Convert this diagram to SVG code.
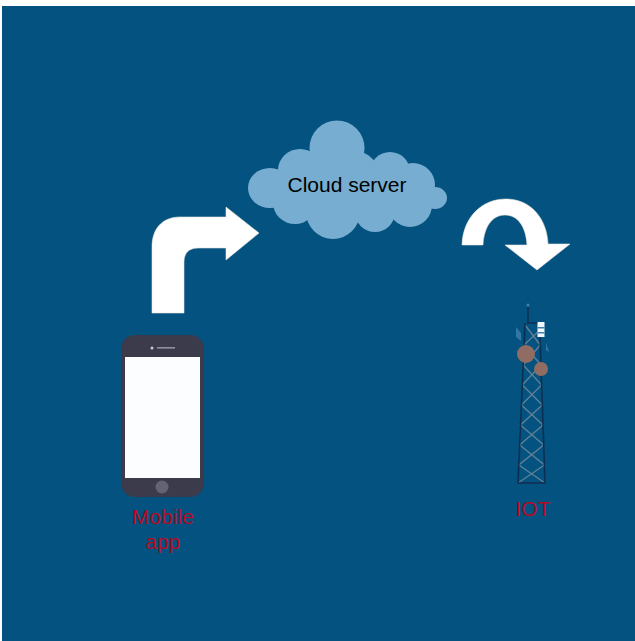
<svg xmlns="http://www.w3.org/2000/svg" width="635" height="641" viewBox="0 0 635 641">
<defs><style>
.lbl{font-family:"Liberation Sans",Arial,sans-serif;font-size:21px;text-anchor:middle}
.red{fill:#b50a24}
.cl{fill:#77add0}
.wa{fill:#fff;stroke:#e8e4dc;stroke-width:.6;stroke-linejoin:round}
.lat{stroke:#5f8098;stroke-width:1.4;fill:none}
.leg{stroke:#0f2f52;stroke-width:1.6;fill:none}
</style>
<filter id="soft" x="-10%" y="-10%" width="120%" height="120%"><feGaussianBlur stdDeviation="0.5"/></filter></defs>
<rect width="635" height="641" fill="#fff"/>
<rect x="2" y="6" width="633" height="635" fill="#03527f"/>
<g id="connectors">
<path class="wa" d="M152 313V247C152 229 162 217 180 217H226V207L259 233L226 260V248H198C189 248 184 253 184 262V313Z"/>
<path class="wa" d="M462 245C463 217 482 199 506 199C531 199 547 219 548 244H570L537 270L505 245H527C526 227 518 215 505 215C492 215 484 227 483 245Z"/>
</g>
<g id="cloud">
<g class="cl">
<circle cx="337" cy="148" r="27.500"/>
<ellipse cx="270" cy="188" rx="22" ry="20"/>
<ellipse cx="300" cy="170" rx="22" ry="21"/>
<ellipse cx="340" cy="175" rx="40" ry="28"/>
<ellipse cx="390" cy="172" rx="20" ry="20"/>
<ellipse cx="413" cy="185" rx="22" ry="22"/>
<ellipse cx="435" cy="198" rx="12" ry="11"/>
<ellipse cx="295" cy="203" rx="22" ry="21"/>
<ellipse cx="333" cy="212" rx="27" ry="27"/>
<ellipse cx="375" cy="212" rx="20" ry="20"/>
<ellipse cx="410" cy="205" rx="22" ry="22"/>
<rect x="280" y="170" width="135" height="42"/>
</g>
<text class="lbl" x="347" y="192" fill="#000">Cloud server</text>
</g>
<g id="mobile">
<g filter="url(#soft)">
<rect x="121" y="335" width="83" height="162" rx="14" fill="#3a3b4b"/>
<rect x="125" y="357" width="75" height="121" fill="#fbfdff"/>
<circle cx="152" cy="348" r="1.500" fill="#c9ccd4"/>
<rect x="157" y="347" width="18" height="1.600" fill="#8d90a0"/>
<circle cx="162" cy="487" r="6.500" fill="#626475"/>
</g>
<text class="lbl red" x="163" y="524">Mobile</text>
<text class="lbl red" x="163" y="549">app</text>
</g>
<g id="iot">
<g filter="url(#soft)">
<path d="M516 327L521 333V341L516 337ZM546 343L549 352L546 350Z" fill="#3f7fae" opacity=".8"/>
<path class="lat" d="M525 325L540.300 345L523.200 365L541.600 385L521.400 405L543 425L519.700 445L544.400 465L518 483M540 330L524 345L541 365L522.300 385L542.300 405L520.500 425L543.700 445L518.800 465L545 483"/>
<path class="leg" d="M528 307V323M527 323H540M525 323L518 483H545L540 337"/>
<rect x="537.500" y="322" width="7" height="15" fill="#f2f8ff"/>
<rect x="537.500" y="327" width="7" height="1.500" fill="#3f7fae"/>
<rect x="537.500" y="332" width="7" height="1.500" fill="#3f7fae"/>
<circle cx="528" cy="305" r="1.500" fill="#3f7fae"/>
<circle cx="526" cy="354" r="9" fill="#916c62"/>
<circle cx="541" cy="369" r="7" fill="#916c62"/>
</g>
<text class="lbl red" x="533" y="516">IOT</text>
</g>
</svg>
